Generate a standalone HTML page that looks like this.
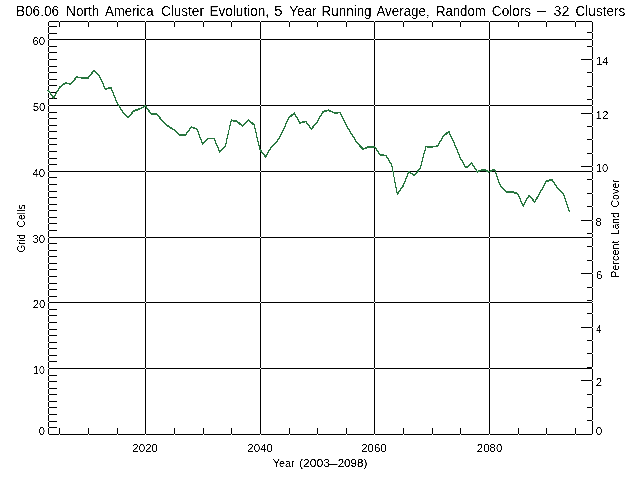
<!DOCTYPE html>
<html lang="en">
<head>
<meta charset="utf-8">
<title>B06.06 North America Cluster Evolution, 5 Year Running Average</title>
<style>
html,body{margin:0;padding:0;background:#fff}
body{width:640px;height:480px;overflow:hidden}
svg{display:block}
text{font-family:"Liberation Sans", sans-serif;fill:#000;stroke:#000;stroke-width:0}
.t{font-size:14.5px}
.l{font-size:11.6px}
</style>
</head>
<body>
<svg width="640" height="480" viewBox="0 0 640 480" role="img" aria-label="Cluster evolution line plot">
<defs><filter id="a" x="0" y="0" width="640" height="480" filterUnits="userSpaceOnUse" color-interpolation-filters="sRGB"><feComponentTransfer><feFuncA type="linear" slope="5" intercept="-2"/></feComponentTransfer></filter></defs>
<rect width="640" height="480" fill="#fff"/>
<path fill="#000" shape-rendering="crispEdges" d="M48 21h545v1h-545zM48 434h545v1h-545zM48 39h545v1h-545zM48 105h545v1h-545zM48 171h545v1h-545zM48 237h545v1h-545zM48 302h545v1h-545zM48 368h545v1h-545zM48 427h9v1h-9zM48 421h9v1h-9zM48 414h9v1h-9zM48 407h9v1h-9zM48 401h9v1h-9zM48 394h9v1h-9zM48 388h9v1h-9zM48 381h9v1h-9zM48 375h9v1h-9zM48 361h9v1h-9zM48 355h9v1h-9zM48 348h9v1h-9zM48 342h9v1h-9zM48 335h9v1h-9zM48 329h9v1h-9zM48 322h9v1h-9zM48 315h9v1h-9zM48 309h9v1h-9zM48 296h9v1h-9zM48 289h9v1h-9zM48 283h9v1h-9zM48 276h9v1h-9zM48 269h9v1h-9zM48 263h9v1h-9zM48 256h9v1h-9zM48 250h9v1h-9zM48 243h9v1h-9zM48 230h9v1h-9zM48 223h9v1h-9zM48 217h9v1h-9zM48 210h9v1h-9zM48 204h9v1h-9zM48 197h9v1h-9zM48 191h9v1h-9zM48 184h9v1h-9zM48 177h9v1h-9zM48 164h9v1h-9zM48 158h9v1h-9zM48 151h9v1h-9zM48 144h9v1h-9zM48 138h9v1h-9zM48 131h9v1h-9zM48 125h9v1h-9zM48 118h9v1h-9zM48 112h9v1h-9zM48 98h9v1h-9zM48 92h9v1h-9zM48 85h9v1h-9zM48 79h9v1h-9zM48 72h9v1h-9zM48 66h9v1h-9zM48 59h9v1h-9zM48 52h9v1h-9zM48 46h9v1h-9zM48 33h9v1h-9zM48 26h9v1h-9zM587 420h6v1h-6zM587 407h6v1h-6zM587 394h6v1h-6zM581 380h12v1h-12zM587 367h6v1h-6zM587 353h6v1h-6zM587 340h6v1h-6zM581 327h12v1h-12zM587 313h6v1h-6zM587 300h6v1h-6zM587 287h6v1h-6zM581 273h12v1h-12zM587 260h6v1h-6zM587 246h6v1h-6zM587 233h6v1h-6zM581 220h12v1h-12zM587 206h6v1h-6zM587 193h6v1h-6zM587 179h6v1h-6zM581 166h12v1h-12zM587 153h6v1h-6zM587 139h6v1h-6zM587 126h6v1h-6zM581 113h12v1h-12zM587 99h6v1h-6zM587 86h6v1h-6zM587 72h6v1h-6zM581 59h12v1h-12zM587 46h6v1h-6zM587 32h6v1h-6zM48 21v414h1v-414zM592 21v414h1v-414zM59 21v6h1v-6zM59 428v7h1v-7zM88 21v6h1v-6zM88 428v7h1v-7zM117 21v6h1v-6zM117 428v7h1v-7zM145 21v414h1v-414zM174 21v6h1v-6zM174 428v7h1v-7zM203 21v6h1v-6zM203 428v7h1v-7zM231 21v6h1v-6zM231 428v7h1v-7zM260 21v414h1v-414zM289 21v6h1v-6zM289 428v7h1v-7zM317 21v6h1v-6zM317 428v7h1v-7zM346 21v6h1v-6zM346 428v7h1v-7zM374 21v414h1v-414zM403 21v6h1v-6zM403 428v7h1v-7zM432 21v6h1v-6zM432 428v7h1v-7zM460 21v6h1v-6zM460 428v7h1v-7zM489 21v414h1v-414zM518 21v6h1v-6zM518 428v7h1v-7zM546 21v6h1v-6zM546 428v7h1v-7zM575 21v6h1v-6zM575 428v7h1v-7z"/>
<g fill="none" stroke="#28763f" stroke-width="1" stroke-linejoin="round" stroke-linecap="square" shape-rendering="crispEdges">
<polyline points="48,89.82 53.73,97.62 59.45,87.12 65.18,82.82 70.91,83.42 76.63,76.82 82.36,77.42 88.08,77.62 93.81,70.42 99.54,75.62 105.26,88.62 110.99,87.12 116.72,101.82 122.44,111.12 128.17,117.12 133.89,110.42 139.62,108.62 145.35,105.62 151.07,113.42 156.8,113.42 162.53,120.82 168.25,125.82 173.98,129.42 179.71,134.62 185.43,134.62 191.16,126.82 196.88,128.42 202.61,143.62 208.34,138.12 214.06,138.12 219.79,151.62 225.52,145.12 231.24,119.82 236.97,121.12 242.69,125.62 248.42,119.82 254.15,124.42 259.87,149.12 265.6,156.42 271.33,146.42 277.05,141.12 282.78,131.12 288.51,117.62 294.23,112.82 299.96,122.62 305.68,121.12 311.41,128.62 317.14,121.62 322.86,111.42 328.59,109.92 334.32,112.42 340.04,112.12 345.77,124.12 351.49,133.62 357.22,142.62 362.95,148.62 368.67,146.52 374.4,146.22 380.13,154.62 385.85,155.22 391.58,164.12 397.31,193.62 403.03,185.62 408.76,171.62 414.48,174.72 420.21,168.12 425.94,146.22 431.66,146.42 437.39,145.82 443.12,136.12 448.84,131.12 454.57,143.62 460.29,157.62 466.02,167.42 471.75,162.82 477.47,171.42 483.2,169.12 488.93,171.42 494.65,169.12 500.38,185.62 506.11,191.42 511.83,191.42 517.56,193.22 523.28,205.62 529.01,194.82 534.74,201.62 540.46,191.62 546.19,181.12 551.92,179.12 557.64,187.62 563.37,193.42 569.09,210.42"/>
<polyline points="48,90.58 53.73,98.38 59.45,87.88 65.18,83.58 70.91,84.18 76.63,77.58 82.36,78.18 88.08,78.38 93.81,71.18 99.54,76.38 105.26,89.38 110.99,87.88 116.72,102.58 122.44,111.88 128.17,117.88 133.89,111.18 139.62,109.38 145.35,106.38 151.07,114.18 156.8,114.18 162.53,121.58 168.25,126.58 173.98,130.18 179.71,135.38 185.43,135.38 191.16,127.58 196.88,129.18 202.61,144.38 208.34,138.88 214.06,138.88 219.79,152.38 225.52,145.88 231.24,120.58 236.97,121.88 242.69,126.38 248.42,120.58 254.15,125.18 259.87,149.88 265.6,157.18 271.33,147.18 277.05,141.88 282.78,131.88 288.51,118.38 294.23,113.58 299.96,123.38 305.68,121.88 311.41,129.38 317.14,122.38 322.86,112.18 328.59,110.68 334.32,113.18 340.04,112.88 345.77,124.88 351.49,134.38 357.22,143.38 362.95,149.38 368.67,147.28 374.4,146.98 380.13,155.38 385.85,155.98 391.58,164.88 397.31,194.38 403.03,186.38 408.76,172.38 414.48,175.48 420.21,168.88 425.94,146.98 431.66,147.18 437.39,146.58 443.12,136.88 448.84,131.88 454.57,144.38 460.29,158.38 466.02,168.18 471.75,163.58 477.47,172.18 483.2,169.88 488.93,172.18 494.65,169.88 500.38,186.38 506.11,192.18 511.83,192.18 517.56,193.98 523.28,206.38 529.01,195.58 534.74,202.38 540.46,192.38 546.19,181.88 551.92,179.88 557.64,188.38 563.37,194.18 569.09,211.18"/>
</g>
<g filter="url(#a)">
<text class="t">
<tspan x="15.9" y="16" textLength="43.34" lengthAdjust="spacingAndGlyphs" stroke-width="0">B06.06</tspan> 
<tspan x="66.12" y="16" textLength="33.16" lengthAdjust="spacingAndGlyphs" stroke-width="0">North</tspan> 
<tspan x="105" y="16" textLength="48.5" lengthAdjust="spacingAndGlyphs" stroke-width="0">America</tspan> 
<tspan x="160.92" y="16" textLength="43.02" lengthAdjust="spacingAndGlyphs" stroke-width="0">Cluster</tspan> 
<tspan x="209.48" y="16" textLength="59.6" lengthAdjust="spacingAndGlyphs" stroke-width="0.1">Evolution,</tspan> 
<tspan x="274.08" y="16" textLength="8.72" lengthAdjust="spacingAndGlyphs" stroke-width="0">5</tspan> 
<tspan x="289.32" y="16" textLength="27.32" lengthAdjust="spacingAndGlyphs" stroke-width="0">Year</tspan> 
<tspan x="321.54" y="16" textLength="50.04" lengthAdjust="spacingAndGlyphs" stroke-width="0.1">Running</tspan> 
<tspan x="376.42" y="16" textLength="53.28" lengthAdjust="spacingAndGlyphs" stroke-width="0">Average,</tspan> 
<tspan x="435.92" y="16" textLength="49.78" lengthAdjust="spacingAndGlyphs" stroke-width="0.1">Random</tspan> 
<tspan x="491.8" y="16" textLength="39.34" lengthAdjust="spacingAndGlyphs" stroke-width="0">Colors</tspan> 
<tspan x="536.34" y="16" textLength="10.86" lengthAdjust="spacingAndGlyphs" stroke-width="0.2">-</tspan> 
<tspan x="553.44" y="16" textLength="15.96" lengthAdjust="spacingAndGlyphs" stroke-width="0">32</tspan> 
<tspan x="575.58" y="16" textLength="49.64" lengthAdjust="spacingAndGlyphs" stroke-width="0">Clusters</tspan> 
</text>
<text class="l">
<tspan x="32.44" y="45" textLength="12.7" lengthAdjust="spacingAndGlyphs" stroke-width="0">60</tspan> 
</text>
<text class="l">
<tspan x="32.64" y="111" textLength="12.7" lengthAdjust="spacingAndGlyphs" stroke-width="0">50</tspan> 
</text>
<text class="l">
<tspan x="32.44" y="177" textLength="12.7" lengthAdjust="spacingAndGlyphs" stroke-width="0">40</tspan> 
</text>
<text class="l">
<tspan x="32.44" y="243" textLength="12.7" lengthAdjust="spacingAndGlyphs" stroke-width="0">30</tspan> 
</text>
<text class="l">
<tspan x="32.64" y="308" textLength="12.7" lengthAdjust="spacingAndGlyphs" stroke-width="0">20</tspan> 
</text>
<text class="l">
<tspan x="33.03" y="374" textLength="11.87" lengthAdjust="spacingAndGlyphs" stroke-width="0">10</tspan> 
</text>
<text class="l">
<tspan x="38.68" y="435" textLength="6.26" lengthAdjust="spacingAndGlyphs" stroke-width="0">0</tspan> 
</text>
<text class="l">
<tspan x="596.14" y="65" textLength="12.26" lengthAdjust="spacingAndGlyphs" stroke-width="0">14</tspan> 
</text>
<text class="l">
<tspan x="595.54" y="119" textLength="12.96" lengthAdjust="spacingAndGlyphs" stroke-width="0">12</tspan> 
</text>
<text class="l">
<tspan x="595.94" y="172" textLength="12.26" lengthAdjust="spacingAndGlyphs" stroke-width="0">10</tspan> 
</text>
<text class="l">
<tspan x="595.54" y="226" textLength="6.46" lengthAdjust="spacingAndGlyphs" stroke-width="0">8</tspan> 
</text>
<text class="l">
<tspan x="595.94" y="279" textLength="6.46" lengthAdjust="spacingAndGlyphs" stroke-width="0">6</tspan> 
</text>
<text class="l">
<tspan x="596.24" y="333" textLength="5.06" lengthAdjust="spacingAndGlyphs" stroke-width="0">4</tspan> 
</text>
<text class="l">
<tspan x="595.74" y="386" textLength="6.46" lengthAdjust="spacingAndGlyphs" stroke-width="0">2</tspan> 
</text>
<text class="l">
<tspan x="595.74" y="435" textLength="6.46" lengthAdjust="spacingAndGlyphs" stroke-width="0">0</tspan> 
</text>
<text class="l">
<tspan x="132.36" y="452" textLength="25.58" lengthAdjust="spacingAndGlyphs" stroke-width="0">2020</tspan> 
</text>
<text class="l">
<tspan x="247.36" y="452" textLength="25.58" lengthAdjust="spacingAndGlyphs" stroke-width="0">2040</tspan> 
</text>
<text class="l">
<tspan x="361.16" y="452" textLength="25.58" lengthAdjust="spacingAndGlyphs" stroke-width="0">2060</tspan> 
</text>
<text class="l">
<tspan x="476.76" y="452" textLength="25.58" lengthAdjust="spacingAndGlyphs" stroke-width="0">2080</tspan> 
</text>
<text class="l">
<tspan x="272.86" y="467" textLength="21.88" lengthAdjust="spacingAndGlyphs" stroke-width="0">Year</tspan> 
<tspan x="299" y="467" textLength="31.04" lengthAdjust="spacingAndGlyphs" stroke-width="0.1">(2003</tspan><tspan x="328.34" y="467" textLength="10.57" lengthAdjust="spacingAndGlyphs" stroke-width="0.1">-</tspan><tspan x="337.67" y="467" textLength="29.67" lengthAdjust="spacingAndGlyphs" stroke-width="0.1">2098)</tspan> 
</text>
<text class="l" transform="translate(24.5 252) rotate(-90)">
<tspan x="-0.2" y="0" textLength="18" lengthAdjust="spacingAndGlyphs" stroke-width="0">Grid</tspan> 
<tspan x="24.5" y="0" textLength="23.08" lengthAdjust="spacingAndGlyphs" stroke-width="0">Cells</tspan> 
</text>
<text class="l" transform="translate(619 276.8) rotate(-90)">
<tspan x="-1.24" y="0" textLength="37.64" lengthAdjust="spacingAndGlyphs" stroke-width="0">Percent</tspan> 
<tspan x="41.9" y="0" textLength="22.4" lengthAdjust="spacingAndGlyphs" stroke-width="0">Land</tspan> 
<tspan x="69.26" y="0" textLength="28.14" lengthAdjust="spacingAndGlyphs" stroke-width="0">Cover</tspan> 
</text>
</g>
</svg>
</body>
</html>
